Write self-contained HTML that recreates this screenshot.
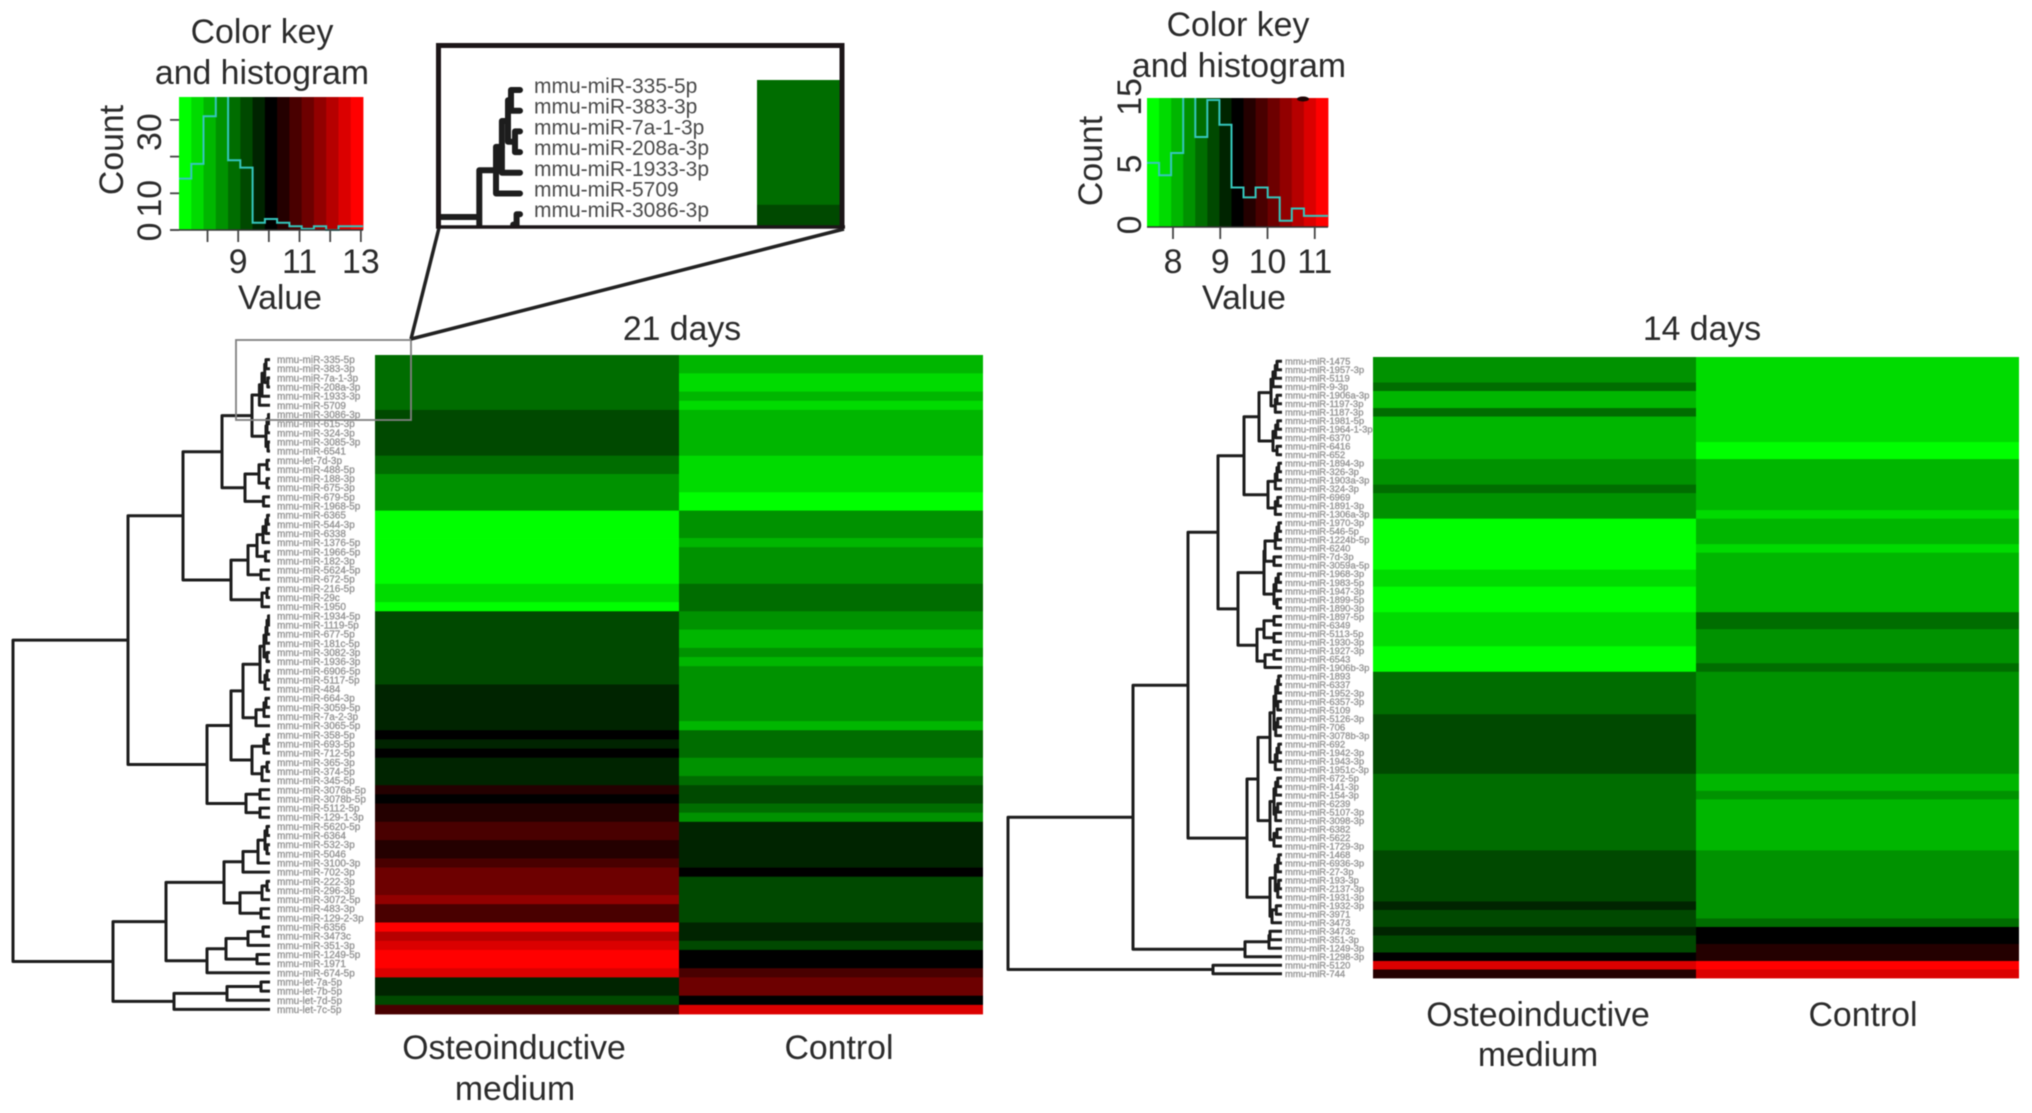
<!DOCTYPE html>
<html>
<head>
<meta charset="utf-8">
<title>miRNA heatmaps</title>
<style>
html,body{margin:0;padding:0;background:#fff;width:2032px;height:1113px;overflow:hidden}
svg{display:block;filter:blur(0.6px)}
text{font-family:"Liberation Sans",Arial,sans-serif;fill:#2b2b2b}
.t33{font-size:33.8px}
</style>
</head>
<body>
<svg id="figure" xmlns="http://www.w3.org/2000/svg" width="2032" height="1113" viewBox="0 0 2032 1113">
<rect x="0" y="0" width="2032" height="1113" fill="#ffffff"/>
<defs>
<clipPath id="insetClip"><rect x="438" y="46" width="404" height="181"/></clipPath>
<clipPath id="key21Clip"><rect x="179" y="97" width="184" height="134"/></clipPath>
<clipPath id="key14Clip"><rect x="1147" y="98" width="181" height="130"/></clipPath>
</defs>
<g id="key21"></g>
<g id="key14"></g>
<g id="tree21"></g>
<g id="labels21"></g>
<g id="heat21"></g>
<g id="tree14"></g>
<g id="labels14"></g>
<g id="heat14"></g>

<g>
<rect x="236" y="340" width="175" height="80" fill="none" stroke="#808080" stroke-width="1.8"/>
<line x1="439" y1="228" x2="411" y2="339" stroke="#222" stroke-width="3.5"/>
<line x1="844" y1="229" x2="411" y2="339" stroke="#222" stroke-width="3.5"/>
<g id="insetContent" clip-path="url(#insetClip)"></g>
<g id="insetLabels"></g>
<path d="M438.5 227V45.5H842V227" fill="none" stroke="#1c1618" stroke-width="5"/>
<line x1="436" y1="227" x2="845" y2="227" stroke="#1c1618" stroke-width="3.5"/>
</g>

<text class="t33" x="262" y="43" text-anchor="middle">Color key</text>
<text class="t33" x="262" y="84" text-anchor="middle">and histogram</text>
<text class="t33" x="280" y="309" text-anchor="middle">Value</text>
<text class="t33" transform="translate(123 150) rotate(-90)" text-anchor="middle">Count</text>

<text class="t33" x="1238" y="36" text-anchor="middle">Color key</text>
<text class="t33" x="1239" y="77" text-anchor="middle">and histogram</text>
<text class="t33" x="1244" y="309" text-anchor="middle">Value</text>
<text class="t33" transform="translate(1102 161) rotate(-90)" text-anchor="middle">Count</text>
<ellipse cx="1303" cy="99" rx="6" ry="2.5" fill="#200404"/>

<text class="t33" x="682" y="340" text-anchor="middle">21 days</text>
<text class="t33" x="1702" y="340" text-anchor="middle">14 days</text>

<text class="t33" x="514" y="1059" text-anchor="middle">Osteoinductive</text>
<text class="t33" x="515" y="1100" text-anchor="middle">medium</text>
<text class="t33" x="839" y="1059" text-anchor="middle">Control</text>
<text class="t33" x="1538" y="1026" text-anchor="middle">Osteoinductive</text>
<text class="t33" x="1538" y="1066" text-anchor="middle">medium</text>
<text class="t33" x="1863" y="1026" text-anchor="middle">Control</text>
</svg>

<script>
/* ---------- DATA ---------- */
const rowNames21 = ["miR-335-5p","miR-383-3p","miR-7a-1-3p","miR-208a-3p","miR-1933-3p","miR-5709","miR-3086-3p","miR-615-3p","miR-324-3p","miR-3085-3p","miR-6541","let-7d-3p","miR-488-5p","miR-188-3p","miR-675-3p","miR-679-5p","miR-1968-5p","miR-6365","miR-544-3p","miR-6338","miR-1376-5p","miR-1966-5p","miR-182-3p","miR-5624-5p","miR-672-5p","miR-216-5p","miR-29c","miR-1950","miR-1934-5p","miR-1119-5p","miR-677-5p","miR-181c-5p","miR-3082-3p","miR-1936-3p","miR-6906-5p","miR-5117-5p","miR-484","miR-664-3p","miR-3059-5p","miR-7a-2-3p","miR-3065-5p","miR-358-5p","miR-693-5p","miR-712-5p","miR-365-3p","miR-374-5p","miR-345-5p","miR-3076a-5p","miR-3078b-5p","miR-5112-5p","miR-129-1-3p","miR-5620-5p","miR-6364","miR-532-3p","miR-5046","miR-3100-3p","miR-702-3p","miR-222-3p","miR-296-3p","miR-3072-5p","miR-483-3p","miR-129-2-3p","miR-6356","miR-3473c","miR-351-3p","miR-1249-5p","miR-1971","miR-674-5p","let-7a-5p","let-7b-5p","let-7d-5p","let-7c-5p"];

const osteo21 = [8.9,8.9,8.9,8.9,8.9,8.9,9.3,9.3,9.3,9.3,9.3,8.9,8.9,8.5,8.5,8.5,8.5,7.3,7.3,7.3,7.3,7.3,7.3,7.3,7.3,7.7,7.7,7.3,9.3,9.3,9.3,9.3,9.3,9.3,9.3,9.3,9.7,9.7,9.7,9.7,9.7,10.1,9.7,10.1,9.7,9.7,9.7,10.5,10.1,10.5,10.5,10.9,10.9,10.5,10.5,10.9,11.3,11.3,11.3,11.7,10.9,10.9,12.9,12.1,12.5,12.9,12.9,12.5,9.7,9.7,9.3,10.9];
const control21 = [8.1,8.1,7.7,7.7,8.1,7.7,8.1,8.1,8.1,8.1,8.1,7.7,7.7,7.7,7.7,7.3,7.3,8.5,8.5,8.5,8.1,8.5,8.5,8.5,8.5,8.9,8.9,8.9,8.5,8.5,8.1,8.1,8.5,8.1,8.5,8.5,8.5,8.5,8.5,8.5,8.1,8.9,8.9,8.9,8.5,8.5,8.9,9.3,9.3,8.9,8.5,9.7,9.7,9.7,9.7,9.7,10.1,9.3,9.3,9.3,9.3,9.3,9.7,9.7,9.3,10.1,10.1,10.9,11.3,11.3,10.1,12.5];

const rowNames14 = ["miR-1475","miR-1957-3p","miR-5119","miR-9-3p","miR-1906a-3p","miR-1197-3p","miR-1187-3p","miR-1981-5p","miR-1964-1-3p","miR-6370","miR-6416","miR-652","miR-1894-3p","miR-326-3p","miR-1903a-3p","miR-324-3p","miR-6969","miR-1891-3p","miR-1306a-3p","miR-1970-3p","miR-546-5p","miR-1224b-5p","miR-6240","miR-7d-3p","miR-3059a-5p","miR-1968-3p","miR-1983-5p","miR-1947-3p","miR-1899-5p","miR-1890-3p","miR-1897-5p","miR-6349","miR-5113-5p","miR-1930-3p","miR-1927-3p","miR-6543","miR-1906b-3p","miR-1893","miR-6337","miR-1952-3p","miR-6357-3p","miR-5109","miR-5126-3p","miR-706","miR-3078b-3p","miR-692","miR-1942-3p","miR-1943-3p","miR-1951c-3p","miR-672-5p","miR-141-3p","miR-154-3p","miR-6239","miR-5107-3p","miR-3098-3p","miR-6382","miR-5622","miR-1729-3p","miR-1468","miR-6936-3p","miR-27-3p","miR-193-3p","miR-2137-3p","miR-1931-3p","miR-1932-3p","miR-3971","miR-3473","miR-3473c","miR-351-3p","miR-1249-3p","miR-1298-3p","miR-5120","miR-744"];

const osteo14 = [8.34,8.34,8.34,8.6,8.09,8.09,8.6,8.09,8.09,8.09,8.09,8.09,8.34,8.34,8.34,8.6,8.34,8.34,8.34,7.58,7.58,7.58,7.58,7.58,7.58,7.83,7.83,7.58,7.58,7.58,7.83,7.83,7.83,7.83,7.58,7.58,7.58,8.6,8.6,8.6,8.6,8.6,8.85,8.85,8.85,8.85,8.85,8.85,8.85,8.6,8.6,8.6,8.6,8.6,8.6,8.6,8.6,8.6,8.85,8.85,8.85,8.85,8.85,8.85,9.11,8.85,8.85,9.11,8.85,8.85,9.37,10.9,9.62];
const control14 = [7.83,7.83,7.83,7.83,7.83,7.83,7.83,7.83,7.83,7.83,7.58,7.58,8.09,8.09,8.09,8.09,8.09,8.09,7.83,8.09,8.09,8.09,7.83,8.09,8.09,8.09,8.09,8.09,8.09,8.09,8.6,8.6,8.34,8.34,8.34,8.34,8.6,8.34,8.34,8.34,8.34,8.34,8.34,8.34,8.34,8.34,8.34,8.34,8.34,8.09,8.09,8.34,8.09,8.09,8.09,8.09,8.09,8.09,8.34,8.34,8.34,8.34,8.34,8.34,8.34,8.34,8.6,9.37,9.37,9.62,9.62,11.15,10.9];

/* Dendrograms: each node is [height, upper child, lower child]; a child is a node or a row number */
const tree21Data = [25.7,
  [14.2,
    [8.7,
      [4.8,
        [1.8,
          [1.06,[0.8,[0.53,[0.4,0,1],[0.22,2,3]],4],5],
          [0.4,[0.3,[0.15,6,7],8],[0.2,9,10]]],
        [2.5,[1.1,[0.3,11,12],[0.3,13,14]],[0.65,15,16]]],
      [3.9,
        [2.2,[1.3,[0.7,[0.4,[0.25,17,18],19],20],[0.45,21,22]],[0.9,23,24]],
        [0.8,[0.3,25,26],27]]],
    [6.3,
      [3.9,
        [2.7,
          [1.0,[0.6,[0.4,[0.3,[0.15,28,29],30],31],[0.3,32,33]],[0.5,[0.3,34,35],36]],
          [1.4,[0.6,[0.4,37,38],39],40]],
        [1.8,[0.6,[0.3,41,42],43],[0.8,[0.3,44,45],46]]],
      [2.4,[1.0,47,48],[1.0,49,50]]]],
  [15.7,
    [10.4,
      [4.6,
        [2.7,[1.2,[0.5,[0.3,51,52],[0.3,53,54]],55],56],
        [3.0,[0.8,[0.3,57,58],59],[0.9,60,61]]],
      [6.3,
        [4.4,[2.2,[0.7,62,63],64],[1.3,65,66]],
        67]],
    [9.6,[4.3,[0.9,68,69],70],71]]];

const tree14Data = [27.4,
  [14.9,
    [9.4,
      [6.4,
        [3.8,
          [2.3,
            [1.1,[0.9,[0.67,[0.5,0,1],2],3],[0.67,[0.5,4,5],6]],
            [0.9,[0.63,[0.43,7,8],9],[0.5,10,11]]],
          [1.4,[0.67,[0.5,[0.33,12,13],14],15],[0.67,[0.43,16,17],18]]],
        [4.4,
          [1.8,
            [1.7,[0.67,[0.5,[0.33,19,20],21],22],[0.8,23,24]],
            [0.8,[0.6,[0.37,25,26],27],[0.5,28,29]]],
          [2.5,
            [1.8,[0.8,30,31],[0.8,32,33]],
            [1.7,[0.8,34,35],36]]]],
      [3.5,
        [2.4,
          [1.2,
            [0.8,[0.63,[0.43,[0.33,37,38],39],[0.43,40,41]],[0.63,[0.43,42,43],44]],
            [0.67,[0.5,[0.33,45,46],47],48]],
          [1.2,
            [0.8,[0.63,[0.43,49,50],51],[0.63,[0.43,52,53],54]],
            [0.8,[0.5,55,56],57]]],
        [1.2,
          [0.67,[0.43,[0.33,58,59],60],[0.43,[0.33,61,62],63]],
          [1.0,[0.57,64,65],66]]]],
    [3.7,[1.3,[1.2,67,68],69],70]],
  [6.9,71,72]];

/* Histograms: bin counts for the 15 colour-key bins */
const hist21 = [14,18,31,38,19,17,2,3,2,1,0.3,1,0,1,1];
const hist14 = [5.2,4.2,6,11,7.3,10.3,8.3,3.2,2.4,3.2,2.4,0.5,1.5,0.9,0.9];
const keyBins = 15;
const xTicks21 = [8,9,10,11,12,13];
const xTickLabels21 = ["","9","","11","","13"];
const yTicks21 = [0,10,20,30];
const yTickLabels21 = ["0","10","","30"];
const xTicks14 = [8,9,10,11];
const xTickLabels14 = ["8","9","10","11"];
const yTicks14 = [0,5,10.5];
const yTickLabels14 = ["0","5","15"];
const insetRowNames = ["mmu-miR-335-5p","mmu-miR-383-3p","mmu-miR-7a-1-3p","mmu-miR-208a-3p","mmu-miR-1933-3p","mmu-miR-5709","mmu-miR-3086-3p"];

/* ---------- HELPERS ---------- */
const NS = "http://www.w3.org/2000/svg";
function make(tag, parent, attrs) {
  const el = document.createElementNS(NS, tag);
  for (const k in attrs) el.setAttribute(k, attrs[k]);
  parent.appendChild(el);
  return el;
}
function binColor(k) {
  const mid = (keyBins - 1) / 2;
  const level = Math.round(255 * Math.abs(k - mid) / mid);
  return k < mid ? "rgb(0," + level + ",0)" : "rgb(" + level + ",0,0)";
}
function valueColor(v, lo, hi) {
  let k = Math.floor((v - lo) / ((hi - lo) / keyBins));
  k = Math.max(0, Math.min(keyBins - 1, k));
  return binColor(k);
}

/* ---------- COLOUR KEY ---------- */
function drawKey(cfg) {
  const g = document.getElementById(cfg.id);
  const xs = v => cfg.x0 + (v - cfg.lo) / (cfg.hi - cfg.lo) * (cfg.x1 - cfg.x0);
  const ys = c => cfg.yBase - c * cfg.yUnit;
  const binW = (cfg.x1 - cfg.x0) / keyBins;
  for (let k = 0; k < keyBins; k++) {
    const r = make("rect", g, {x: cfg.x0 + k * binW, y: cfg.yTop, width: binW + 0.4, height: cfg.yBase - cfg.yTop, fill: binColor(k)});
    
    
  }
  let d = "M" + cfg.x0 + " " + ys(cfg.hist[0]);
  cfg.hist.forEach((c, k) => {
    d += "H" + (cfg.x0 + (k + 1) * binW).toFixed(1);
    if (k + 1 < cfg.hist.length) d += "V" + ys(cfg.hist[k + 1]).toFixed(1);
  });
  const line = make("path", g, {d: d, fill: "none", stroke: "#35c6bd", "stroke-width": 2, "clip-path": "url(#" + cfg.clip + ")"});
  
  
  const base = make("line", g, {x1: cfg.axisLeft, x2: cfg.x1, y1: cfg.yBase, y2: cfg.yBase, stroke: "#333", "stroke-width": 1.6});
  
  
  cfg.xTicks.forEach((v, i) => {
    const t = make("line", g, {x1: xs(v), x2: xs(v), y1: cfg.yBase, y2: cfg.yBase + 12, stroke: "#444", "stroke-width": 1.8});
    
    
    if (cfg.xLabels[i]) {
      const lab = make("text", g, {x: xs(v), y: 273, "text-anchor": "middle", "font-size": 33.8});
      
      
      lab.textContent = cfg.xLabels[i];
    }
  });
  cfg.yTicks.forEach((v, i) => {
    if (cfg.showYTicks) {
      const t = make("line", g, {x1: cfg.axisLeft, x2: cfg.x0, y1: ys(v), y2: ys(v), stroke: "#444", "stroke-width": 1.8});
      
      
    }
    if (cfg.yLabels[i]) {
      const ly = cfg.labelBase - v * cfg.labelUnit;
      const lab = make("text", g, {transform: "translate(" + cfg.labelX + " " + ly.toFixed(1) + ") rotate(-90)", "text-anchor": "middle", "font-size": 33.8});
      
      
      lab.textContent = cfg.yLabels[i];
    }
  });
}
drawKey({id:"key21",clip:"key21Clip",x0:179,x1:363,lo:7.07,hi:13.07,yTop:97,yBase:230,yUnit:3.67,axisLeft:170,hist:hist21,xTicks:xTicks21,xLabels:xTickLabels21,yTicks:yTicks21,yLabels:yTickLabels21,showYTicks:true,labelBase:232,labelUnit:3.33,labelX:161});
drawKey({id:"key14",clip:"key14Clip",x0:1147,x1:1328,lo:7.45,hi:11.28,yTop:98,yBase:227,yUnit:12.33,axisLeft:1147,hist:hist14,xTicks:xTicks14,xLabels:xTickLabels14,yTicks:yTicks14,yLabels:yTickLabels14,showYTicks:false,labelBase:225,labelUnit:12.2,labelX:1141});

/* ---------- HEATMAP ---------- */
function drawHeat(cfg) {
  const g = document.getElementById(cfg.id);
  const rowH = (cfg.y1 - cfg.y0) / cfg.a.length;
  [cfg.a, cfg.b].forEach((col, c) => {
    const xa = c === 0 ? cfg.x0 : cfg.xm;
    const xb = c === 0 ? cfg.xm : cfg.x1;
    col.forEach((v, i) => {
      const r = make("rect", g, {x: xa, y: (cfg.y0 + i * rowH).toFixed(2), width: xb - xa + (c === 0 ? 0.4 : 0), height: (rowH + 0.4).toFixed(2), fill: valueColor(v, cfg.lo, cfg.hi)});
      
      
    });
  });
}
drawHeat({id:"heat21",a:osteo21,b:control21,x0:375,xm:679,x1:983,y0:355,y1:1014,lo:7.07,hi:13.07});
drawHeat({id:"heat14",a:osteo14,b:control14,x0:1373,xm:1696,x1:2019,y0:357,y1:978,lo:7.45,hi:11.28});

/* ---------- DENDROGRAM ---------- */
function drawTree(g, node, xOf, yOf, width, cap) {
  if (typeof node === "number") return yOf(node);
  const ya = drawTree(g, node[1], xOf, yOf, width, cap);
  const yb = drawTree(g, node[2], xOf, yOf, width, cap);
  const xa = typeof node[1] === "number" ? xOf(0) : xOf(node[1][0]);
  const xb = typeof node[2] === "number" ? xOf(0) : xOf(node[2][0]);
  const xn = xOf(node[0]);
  const p = make("path", g, {d: "M" + xa.toFixed(1) + " " + ya.toFixed(1) + "H" + xn.toFixed(1) + "V" + yb.toFixed(1) + "H" + xb.toFixed(1), fill: "none", stroke: "#1d1d1d", "stroke-width": width, "stroke-linecap": cap, "stroke-linejoin": "round"});
  
  
  return (ya + yb) / 2;
}
const rowH21 = 659 / osteo21.length;
const rowH14 = 621 / osteo14.length;
drawTree(document.getElementById("tree21"), tree21Data, h => 270 - h * 10, n => 355 + rowH21 * (n + 0.5), 3, "butt");
drawTree(document.getElementById("tree14"), tree14Data, h => 1282 - h * 10, n => 357 + rowH14 * (n + 0.5), 3, "butt");

/* ---------- ROW LABELS ---------- */
function drawLabels(id, names, x, yOf, size) {
  const g = document.getElementById(id);
  names.forEach((nm, i) => {
    const t = make("text", g, {x: x, y: (yOf(i) + size * 0.35).toFixed(1), "font-size": size});
    t.style.fill = "#8e8e8e";
    t.style.stroke = "#a0a0a0";
    t.style.strokeWidth = "0.4px";
    
    
    t.textContent = "mmu-" + nm;
  });
}
drawLabels("labels21", rowNames21, 277, n => 355 + rowH21 * (n + 0.5), 10);
drawLabels("labels14", rowNames14, 1285, n => 357 + rowH14 * (n + 0.5), 9.5);

/* ---------- INSET (magnified rows of the 21-day map) ---------- */
const insetG = document.getElementById("insetContent");
const insetRowH = 20.8;
osteo21.slice(0, 8).forEach((v, i) => {
  const r = make("rect", insetG, {x: 757, y: 80 + i * insetRowH, width: 85, height: insetRowH + 0.4, fill: valueColor(v, 7.07, 13.07)});
  
  
});
const insetSubtree = tree21Data[1][1][1][1];
drawTree(insetG, insetSubtree, h => 520 - h * 22.6, n => 90 + 20.7 * n, 6, "round");
const insetLabelsG = document.getElementById("insetLabels");
insetRowNames.forEach((nm, i) => {
  const t = make("text", insetLabelsG, {x: 534, y: 93 + i * 20.7, "font-size": 21});
  t.style.fill = "#4a4a4a";
  
  
  t.textContent = nm;
});
const stem = make("path", insetG, {d: "M438 217H479", fill: "none", stroke: "#1d1d1d", "stroke-width": 6});


</script>
</body>
</html>
